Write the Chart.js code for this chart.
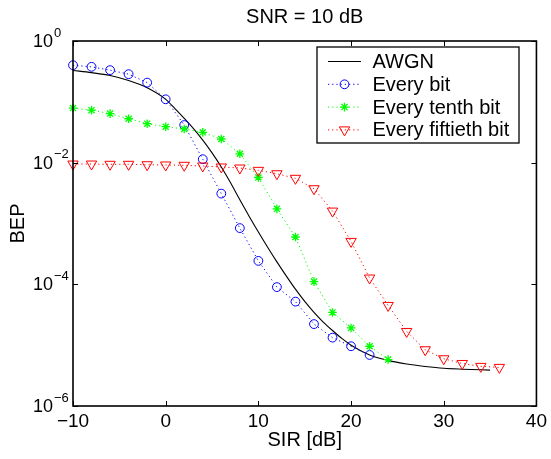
<!DOCTYPE html>
<html>
<head>
<meta charset="utf-8">
<script src="https://cdn.jsdelivr.net/npm/chart.js@4.4.1/dist/chart.umd.min.js"></script>
<style>
html,body{margin:0;padding:0;background:#fff;}
#wrap{width:551px;height:459px;position:relative;}
canvas{display:block;}
</style>
</head>
<body>
<div id="wrap"><canvas id="c" width="551" height="459"></canvas></div>
<script>
// ---- data ----
const titleText = 'SNR = 10 dB';
const xLabel = 'SIR [dB]';
const yLabel = 'BEP';
const xTicks = [-10, 0, 10, 20, 30, 40];
const yTickExps = [0, -2, -4, -6];

const sirAwgn = [-10,-8,-6,-4,-2,0,1,2,3,4,5,6,7,8,9,10,11,12,13,14,15,16,17,18,19,20,22,24,26,28,30,32,35];
const bepAwgn = [0.328,0.302,0.271,0.224,0.170,0.110,0.0776,0.0537,0.0363,0.0234,0.0145,0.00851,0.00468,0.00245,0.00132,7.24e-4,4.07e-4,2.34e-4,1.38e-4,8.32e-5,5.25e-5,3.47e-5,2.40e-5,1.74e-5,1.29e-5,1.0e-5,6.92e-6,5.62e-6,4.90e-6,4.47e-6,4.17e-6,4.03e-6,3.89e-6];

const sirEveryBit = [-10,-8,-6,-4,-2,0,2,4,6,8,10,12,14,16,18,20,22];
const bepEveryBit = [0.40,0.376,0.332,0.285,0.207,0.110,0.0415,0.0114,0.0031,8.4e-4,2.43e-4,9.0e-5,5.2e-5,2.22e-5,1.33e-5,9.6e-6,6.9e-6];

const sirEveryTenth = [-10,-8,-6,-4,-2,0,2,4,6,8,10,12,14,16,18,20,22,24];
const bepEveryTenth = [0.079,0.073,0.064,0.0527,0.0437,0.039,0.0358,0.0315,0.0245,0.014,0.0057,0.00174,6.0e-4,1.11e-4,3.45e-5,1.92e-5,9.6e-6,5.8e-6];

const sirEveryFiftieth = [-10,-8,-6,-4,-2,0,2,4,6,8,10,12,14,16,18,20,22,24,26,28,30,32,34,36];
const bepEveryFiftieth = [0.0095,0.0095,0.0094,0.0094,0.00925,0.00916,0.00905,0.00882,0.00849,0.00817,0.00748,0.00658,0.00553,0.00373,0.0016,5.08e-4,1.27e-4,4.5e-5,1.68e-5,8.4e-6,5.98e-6,5.0e-6,4.48e-6,4.31e-6];

const seriesNames = ['AWGN','Every bit','Every tenth bit','Every fiftieth bit'];

const FONT = '"Liberation Sans", Arial, Helvetica, sans-serif';
Chart.defaults.font.family = FONT;
Chart.defaults.color = '#000';

function pts(xs, ys){ return xs.map((x,i)=>({x:x, y:ys[i]})); }

// axes box, inward ticks and y labels with exponents
const axesPlugin = {
  id: 'matlabAxes',
  afterDatasetsDraw(chart){
    const {ctx, chartArea:ca, scales:{x, y}} = chart;
    ctx.save();
    ctx.strokeStyle = '#000';
    ctx.lineWidth = 1;
    ctx.beginPath();
    xTicks.forEach(v=>{
      const px = Math.round(x.getPixelForValue(v)) + 0.5;
      ctx.moveTo(px, ca.bottom); ctx.lineTo(px, ca.bottom - 5);
      ctx.moveTo(px, ca.top); ctx.lineTo(px, ca.top + 5);
    });
    yTickExps.forEach(e=>{
      const py = Math.round(y.getPixelForValue(Math.pow(10,e))) + 0.5;
      ctx.moveTo(ca.left, py); ctx.lineTo(ca.left + 5, py);
      ctx.moveTo(ca.right, py); ctx.lineTo(ca.right - 5, py);
    });
    ctx.stroke();
    ctx.lineWidth = 1.6;
    ctx.strokeRect(ca.left, ca.top, ca.right - ca.left, ca.bottom - ca.top);
    // y tick labels
    ctx.fillStyle = '#000';
    ctx.textBaseline = 'middle';
    yTickExps.forEach(e=>{
      const py = y.getPixelForValue(Math.pow(10,e));
      ctx.font = '18px ' + FONT;
      ctx.textAlign = 'right';
      ctx.fillText('10', ca.left - 20, py + 1);
      ctx.font = '13px ' + FONT;
      ctx.textAlign = 'left';
      ctx.fillText(e < 0 ? '\u2212' + Math.abs(e) : String(e), ca.left - 19, py - 8);
    });
    ctx.restore();
  }
};

const legendPlugin = {
  id: 'matlabLegend',
  afterDraw(chart){
    const ctx = chart.ctx;
    const x0 = 317, y0 = 47, w = 202, h = 96;
    ctx.save();
    ctx.fillStyle = '#fff';
    ctx.fillRect(x0, y0, w, h);
    ctx.strokeStyle = '#000';
    ctx.lineWidth = 1.3;
    ctx.strokeRect(x0, y0, w, h);
    chart.data.datasets.forEach((ds, i)=>{
      const yy = 61.5 + i * 22.8;
      ctx.save();
      ctx.strokeStyle = ds.borderColor;
      ctx.lineWidth = 1;
      ctx.setLineDash(ds.borderDash || []);
      ctx.beginPath();
      ctx.moveTo(328, yy); ctx.lineTo(361, yy);
      ctx.stroke();
      ctx.setLineDash([]);
      if (ds.pointRadius > 0) {
        ctx.strokeStyle = ds.pointBorderColor || ds.borderColor;
        ctx.fillStyle = 'rgba(0,0,0,0)';
        ctx.lineWidth = ds.pointBorderWidth || 1;
        Chart.helpers.drawPoint(ctx, {pointStyle: ds.pointStyle, rotation: ds.pointRotation || 0, radius: ds.pointRadius, borderWidth: ds.pointBorderWidth || 1}, 344.5, yy);
      }
      ctx.restore();
      ctx.fillStyle = '#000';
      ctx.font = '20px ' + FONT;
      ctx.textAlign = 'left';
      ctx.textBaseline = 'middle';
      ctx.fillText(ds.label, 372.5, yy + 1);
    });
    ctx.restore();
  }
};

new Chart(document.getElementById('c'), {
  type: 'scatter',
  data: {
    datasets: [
      { label: seriesNames[0], data: pts(sirAwgn, bepAwgn), showLine: true, borderColor: '#000', borderWidth: 1.1,
        pointRadius: 0, cubicInterpolationMode: 'monotone', order: 4, clip: false },
      { label: seriesNames[1], data: pts(sirEveryBit, bepEveryBit), showLine: true, borderColor: '#0000ff', borderWidth: 1,
        borderDash: [1.2, 3], pointStyle: 'circle', pointRadius: 4.4, pointBorderWidth: 1, pointBackgroundColor: 'rgba(0,0,0,0)',
        pointBorderColor: '#0000ff', order: 3, clip: false },
      { label: seriesNames[2], data: pts(sirEveryTenth, bepEveryTenth), showLine: true, borderColor: '#00ff00', borderWidth: 1,
        borderDash: [1.2, 3], pointStyle: 'star', pointRadius: 4.3, pointBorderWidth: 1.3, pointBackgroundColor: 'rgba(0,0,0,0)',
        pointBorderColor: '#00ff00', order: 2, clip: false },
      { label: seriesNames[3], data: pts(sirEveryFiftieth, bepEveryFiftieth), showLine: true, borderColor: '#ff0000', borderWidth: 1,
        borderDash: [1.2, 3], pointStyle: 'triangle', pointRotation: 180, pointRadius: 6, pointBorderWidth: 1, pointBackgroundColor: 'rgba(0,0,0,0)',
        pointBorderColor: '#ff0000', order: 1, clip: false }
    ]
  },
  options: {
    responsive: false,
    animation: false,
    devicePixelRatio: 1,
    layout: { padding: { left: 0, right: 12, top: 0, bottom: 0 } },
    plugins: {
      legend: { display: false },
      tooltip: { enabled: false },
      title: { display: true, fullSize: false, text: titleText, color: '#000',
        font: { size: 20, weight: 'normal', family: FONT }, padding: { top: 5.4, bottom: 11.6 } }
    },
    scales: {
      x: {
        type: 'linear', min: -10, max: 40,
        afterBuildTicks: s => { s.ticks = xTicks.map(v => ({value: v})); },
        afterFit: s => { s.height = 53; },
        grid: { display: false, drawTicks: false },
        border: { display: false },
        ticks: { color: '#000', font: { size: 19 }, padding: 4, maxRotation: 0, autoSkip: false,
          callback: v => (v < 0 ? '\u2212' + Math.abs(v) : String(v)) },
        title: { display: true, text: xLabel, color: '#000', font: { size: 20 }, padding: { top: 0, bottom: 7 } }
      },
      y: {
        type: 'logarithmic', min: 1e-6, max: 1,
        afterFit: s => { s.width = 73; },
        grid: { display: false, drawTicks: false },
        border: { display: false },
        ticks: { display: false },
        title: { display: true, text: yLabel, color: '#000', font: { size: 20 }, padding: { top: 6, bottom: 0 } }
      }
    }
  },
  plugins: [axesPlugin, legendPlugin]
});
</script>
</body>
</html>
